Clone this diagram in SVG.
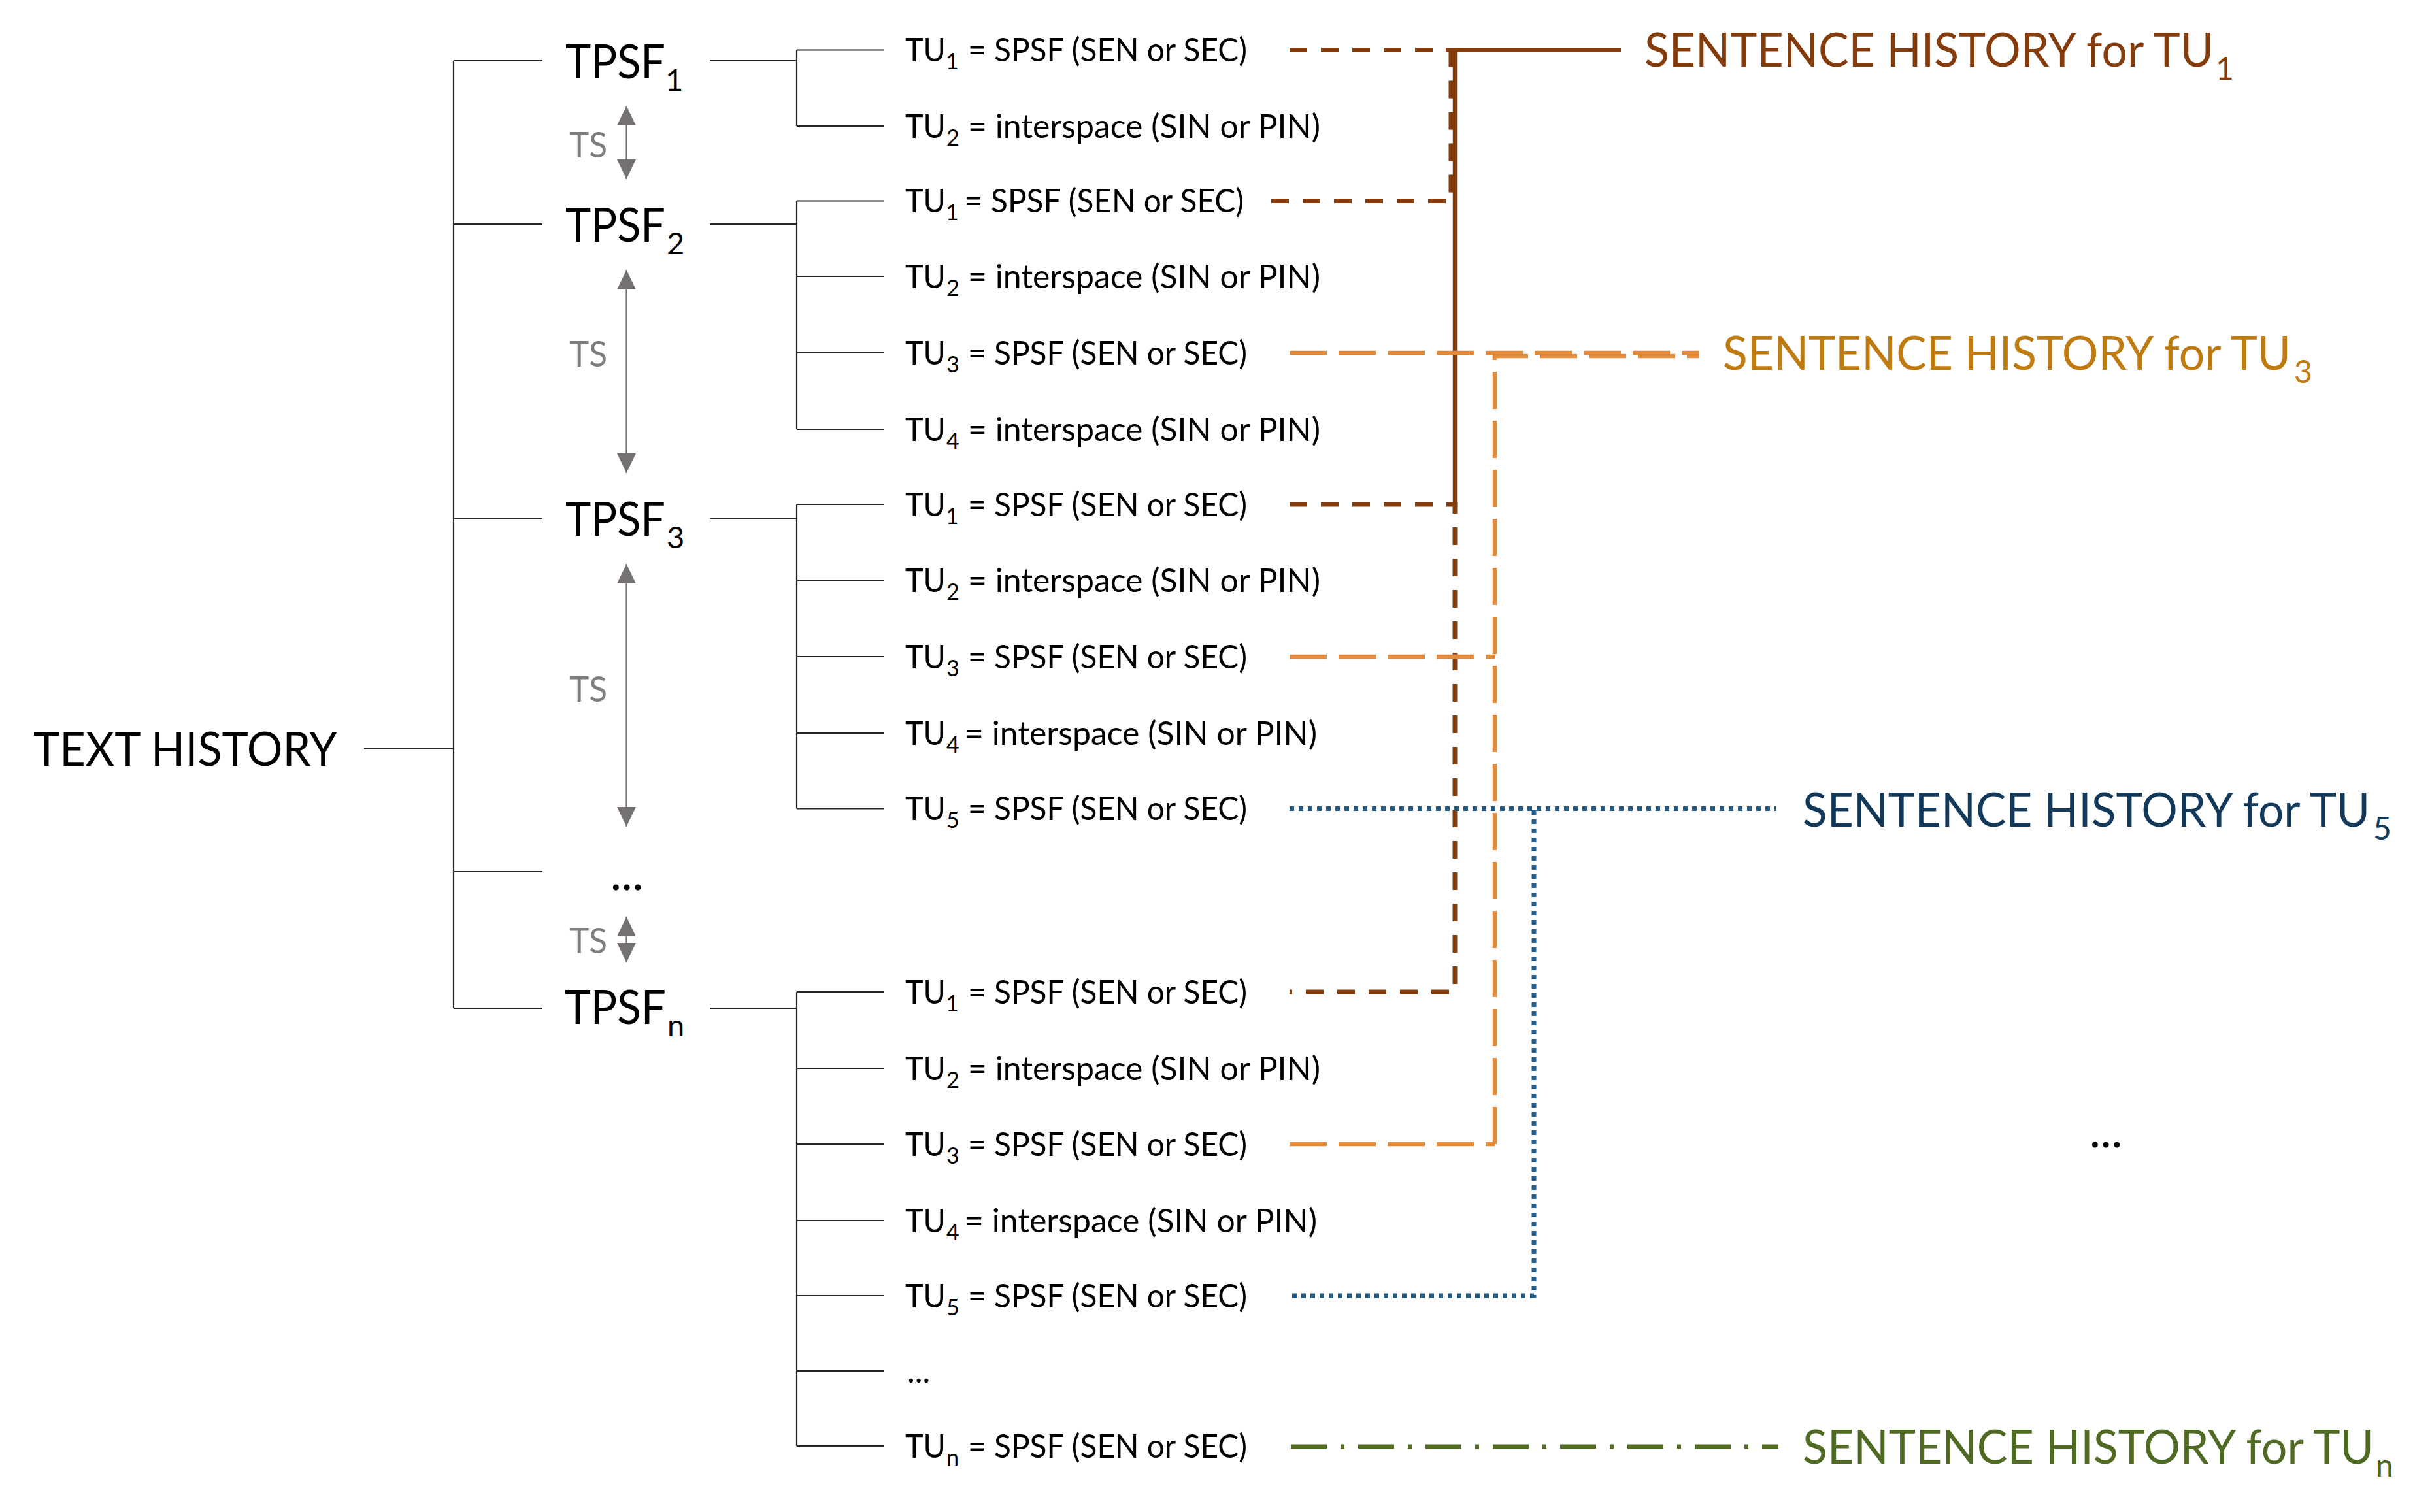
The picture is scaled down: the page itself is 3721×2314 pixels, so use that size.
<svg xmlns="http://www.w3.org/2000/svg" width="3721" height="2314" viewBox="0 0 3721 2314">
<style>
text{font-family:Lato,"Open Sans","Liberation Sans",sans-serif}
.tree{stroke:#262626;stroke-width:2.2;fill:none}
.tu{font-size:50px;fill:#000}
.tus{font-size:34px;fill:#000}
.big{font-size:71px;fill:#000}
.bigs{font-size:47px;fill:#000}
.ts{font-size:55px;fill:#7F7F7F}
.sh{font-size:72px}
.shs{font-size:48px}
.c1{fill:#843C0C}
.c3{fill:#BF7A10}
.c5{fill:#12395A}
.cn{fill:#4F6A23}
.tsl{stroke:#767171;stroke-width:2.2;fill:none;marker-start:url(#ah);marker-end:url(#ah)}
.br{stroke:#843C0C;stroke-width:6.5;fill:none}
.brd{stroke:#843C0C;stroke-width:7;fill:none;stroke-dasharray:27 21}
.or{stroke:#E28A39;stroke-width:6.5;fill:none;stroke-dasharray:57 18}
.bl{stroke:#1F5C8A;stroke-width:7;fill:none;stroke-dasharray:7 7}
.gr{stroke:#4F6A23;stroke-width:7;fill:none;stroke-dasharray:55 21 6 21}
</style>
<defs>
<marker id="ah" markerUnits="userSpaceOnUse" markerWidth="30" markerHeight="30" refX="27" refY="13" orient="auto-start-reverse" viewBox="0 0 27 26">
<path d="M0,0 L27,13 L0,26 Z" fill="#767171"/>
</marker>
</defs>
<rect width="3721" height="2314" fill="#fff"/>

<g id="connectors">
<path class="tree" d="M557,1145 H694 M694,93 V1543 M694,93 H830 M694,343 H830 M694,793 H830 M694,1334 H830 M694,1543 H830"/>
<path class="tree" d="M1086,93 H1219 M1219,76.5 V193 M1219,76.5 H1352 M1219,193 H1352"/>
<path class="tree" d="M1086,343 H1219 M1219,307.5 V657 M1219,307.5 H1352 M1219,423 H1352 M1219,540 H1352 M1219,657 H1352"/>
<path class="tree" d="M1086,793 H1219 M1219,772 V1237.5 M1219,772 H1352 M1219,888 H1352 M1219,1005 H1352 M1219,1122 H1352 M1219,1237.5 H1352"/>
<path class="tree" d="M1086,1543 H1219 M1219,1518 V2213 M1219,1518 H1352 M1219,1635 H1352 M1219,1751 H1352 M1219,1868 H1352 M1219,1983 H1352 M1219,2098 H1352 M1219,2213 H1352"/>
<line class="tsl" x1="958.5" y1="162" x2="958.5" y2="274"/>
<line class="tsl" x1="958.5" y1="413" x2="958.5" y2="724"/>
<line class="tsl" x1="958.5" y1="863" x2="958.5" y2="1265"/>
<line class="tsl" x1="958.5" y1="1403" x2="958.5" y2="1473"/>
<path class="brd" d="M1973,76.5 H2212"/>
<path class="brd" d="M1945,307.5 H2220 V76.5"/>
<path class="br" d="M2212,76.5 H2480 M2226,73.5 V772"/>
<path class="brd" d="M1973,772 H2226 V1518 H1973"/>
<path class="or" d="M1973,540 H2600"/>
<path class="or" d="M2287,1751 V545 H2600"/>
<path class="or" d="M1973,1005 H2287"/>
<path class="or" d="M1973,1751 H2287"/>
<path class="bl" d="M1973,1237.5 H2718"/>
<path class="bl" d="M2347,1240 V1983 H1973"/>
<path class="gr" d="M1975,2214 H2721"/>
</g>

<g id="text-history"><text class="big" x="51" y="1172" textLength="465" lengthAdjust="spacingAndGlyphs">TEXT HISTORY</text></g>

<g id="tpsf-1"><text class="big" x="865" y="120" textLength="153" lengthAdjust="spacingAndGlyphs">TPSF</text><text class="bigs" x="1018" y="139">1</text></g>
<g id="tpsf-2"><text class="big" x="865" y="370" textLength="153" lengthAdjust="spacingAndGlyphs">TPSF</text><text class="bigs" x="1020" y="389">2</text></g>
<g id="tpsf-3"><text class="big" x="865" y="820" textLength="153" lengthAdjust="spacingAndGlyphs">TPSF</text><text class="bigs" x="1020" y="839">3</text></g>
<g id="tpsf-dots"><text class="big" x="934" y="1362">...</text></g>
<g id="tpsf-n"><text class="big" x="864" y="1567" textLength="155" lengthAdjust="spacingAndGlyphs">TPSF</text><text class="bigs" x="1021" y="1586">n</text></g>

<g id="ts-labels">
<text class="ts" x="871" y="241" textLength="58" lengthAdjust="spacingAndGlyphs">TS</text>
<text class="ts" x="871" y="561" textLength="58" lengthAdjust="spacingAndGlyphs">TS</text>
<text class="ts" x="871" y="1074" textLength="58" lengthAdjust="spacingAndGlyphs">TS</text>
<text class="ts" x="871" y="1459" textLength="58" lengthAdjust="spacingAndGlyphs">TS</text>
</g>

<g id="tpsf1-tus">
<g id="t1-tu1"><text class="tu" x="1385" y="94" textLength="62" lengthAdjust="spacingAndGlyphs">TU</text><text class="tus" x="1447" y="106">1</text><text class="tu" x="1481" y="94" textLength="427" lengthAdjust="spacingAndGlyphs">= SPSF (SEN or SEC)</text></g>
<g id="t1-tu2"><text class="tu" x="1385" y="210.5" textLength="62" lengthAdjust="spacingAndGlyphs">TU</text><text class="tus" x="1448" y="222.5">2</text><text class="tu" x="1481" y="210.5" textLength="539" lengthAdjust="spacingAndGlyphs">= interspace (SIN or PIN)</text></g>
</g>
<g id="tpsf2-tus">
<g id="t2-tu1"><text class="tu" x="1385" y="325" textLength="62" lengthAdjust="spacingAndGlyphs">TU</text><text class="tus" x="1447" y="337">1</text><text class="tu" x="1476" y="325" textLength="427" lengthAdjust="spacingAndGlyphs">= SPSF (SEN or SEC)</text></g>
<g id="t2-tu2"><text class="tu" x="1385" y="440.5" textLength="62" lengthAdjust="spacingAndGlyphs">TU</text><text class="tus" x="1448" y="452.5">2</text><text class="tu" x="1481" y="440.5" textLength="539" lengthAdjust="spacingAndGlyphs">= interspace (SIN or PIN)</text></g>
<g id="t2-tu3"><text class="tu" x="1385" y="557.5" textLength="62" lengthAdjust="spacingAndGlyphs">TU</text><text class="tus" x="1448" y="569.5">3</text><text class="tu" x="1481" y="557.5" textLength="427" lengthAdjust="spacingAndGlyphs">= SPSF (SEN or SEC)</text></g>
<g id="t2-tu4"><text class="tu" x="1385" y="674.5" textLength="62" lengthAdjust="spacingAndGlyphs">TU</text><text class="tus" x="1448" y="686.5">4</text><text class="tu" x="1481" y="674.5" textLength="539" lengthAdjust="spacingAndGlyphs">= interspace (SIN or PIN)</text></g>
</g>
<g id="tpsf3-tus">
<g id="t3-tu1"><text class="tu" x="1385" y="789.5" textLength="62" lengthAdjust="spacingAndGlyphs">TU</text><text class="tus" x="1447" y="801.5">1</text><text class="tu" x="1481" y="789.5" textLength="427" lengthAdjust="spacingAndGlyphs">= SPSF (SEN or SEC)</text></g>
<g id="t3-tu2"><text class="tu" x="1385" y="905.5" textLength="62" lengthAdjust="spacingAndGlyphs">TU</text><text class="tus" x="1448" y="917.5">2</text><text class="tu" x="1481" y="905.5" textLength="539" lengthAdjust="spacingAndGlyphs">= interspace (SIN or PIN)</text></g>
<g id="t3-tu3"><text class="tu" x="1385" y="1022.5" textLength="62" lengthAdjust="spacingAndGlyphs">TU</text><text class="tus" x="1448" y="1034.5">3</text><text class="tu" x="1481" y="1022.5" textLength="427" lengthAdjust="spacingAndGlyphs">= SPSF (SEN or SEC)</text></g>
<g id="t3-tu4"><text class="tu" x="1385" y="1139.5" textLength="62" lengthAdjust="spacingAndGlyphs">TU</text><text class="tus" x="1448" y="1151.5">4</text><text class="tu" x="1476" y="1139.5" textLength="539" lengthAdjust="spacingAndGlyphs">= interspace (SIN or PIN)</text></g>
<g id="t3-tu5"><text class="tu" x="1385" y="1255" textLength="62" lengthAdjust="spacingAndGlyphs">TU</text><text class="tus" x="1448" y="1267">5</text><text class="tu" x="1481" y="1255" textLength="427" lengthAdjust="spacingAndGlyphs">= SPSF (SEN or SEC)</text></g>
</g>
<g id="tpsfn-tus">
<g id="tn-tu1"><text class="tu" x="1385" y="1535.5" textLength="62" lengthAdjust="spacingAndGlyphs">TU</text><text class="tus" x="1447" y="1547.5">1</text><text class="tu" x="1481" y="1535.5" textLength="427" lengthAdjust="spacingAndGlyphs">= SPSF (SEN or SEC)</text></g>
<g id="tn-tu2"><text class="tu" x="1385" y="1652.5" textLength="62" lengthAdjust="spacingAndGlyphs">TU</text><text class="tus" x="1448" y="1664.5">2</text><text class="tu" x="1481" y="1652.5" textLength="539" lengthAdjust="spacingAndGlyphs">= interspace (SIN or PIN)</text></g>
<g id="tn-tu3"><text class="tu" x="1385" y="1768.5" textLength="62" lengthAdjust="spacingAndGlyphs">TU</text><text class="tus" x="1448" y="1780.5">3</text><text class="tu" x="1481" y="1768.5" textLength="427" lengthAdjust="spacingAndGlyphs">= SPSF (SEN or SEC)</text></g>
<g id="tn-tu4"><text class="tu" x="1385" y="1885.5" textLength="62" lengthAdjust="spacingAndGlyphs">TU</text><text class="tus" x="1448" y="1897.5">4</text><text class="tu" x="1476" y="1885.5" textLength="539" lengthAdjust="spacingAndGlyphs">= interspace (SIN or PIN)</text></g>
<g id="tn-tu5"><text class="tu" x="1385" y="2000.5" textLength="62" lengthAdjust="spacingAndGlyphs">TU</text><text class="tus" x="1448" y="2012.5">5</text><text class="tu" x="1481" y="2000.5" textLength="427" lengthAdjust="spacingAndGlyphs">= SPSF (SEN or SEC)</text></g>
<g id="tn-dots"><text class="tu" x="1388" y="2116">...</text></g>
<g id="tn-tun"><text class="tu" x="1385" y="2230.5" textLength="62" lengthAdjust="spacingAndGlyphs">TU</text><text class="tus" x="1448" y="2242.5">n</text><text class="tu" x="1481" y="2230.5" textLength="427" lengthAdjust="spacingAndGlyphs">= SPSF (SEN or SEC)</text></g>
</g>

<g id="sh-tu1"><text class="sh c1" x="2516" y="102" textLength="871" lengthAdjust="spacingAndGlyphs">SENTENCE HISTORY for TU</text><text class="shs c1" x="3390" y="122">1</text></g>
<g id="sh-tu3"><text class="sh c3" x="2636" y="566" textLength="869" lengthAdjust="spacingAndGlyphs">SENTENCE HISTORY for TU</text><text class="shs c3" x="3510" y="586">3</text></g>
<g id="sh-tu5"><text class="sh c5" x="2758" y="1265" textLength="868" lengthAdjust="spacingAndGlyphs">SENTENCE HISTORY for TU</text><text class="shs c5" x="3631" y="1285">5</text></g>
<g id="sh-tun"><text class="sh cn" x="2758" y="2240" textLength="874" lengthAdjust="spacingAndGlyphs">SENTENCE HISTORY for TU</text><text class="shs cn" x="3635" y="2260">n</text></g>
<g id="sh-dots"><text class="big" x="3197" y="1756">...</text></g>
</svg>
